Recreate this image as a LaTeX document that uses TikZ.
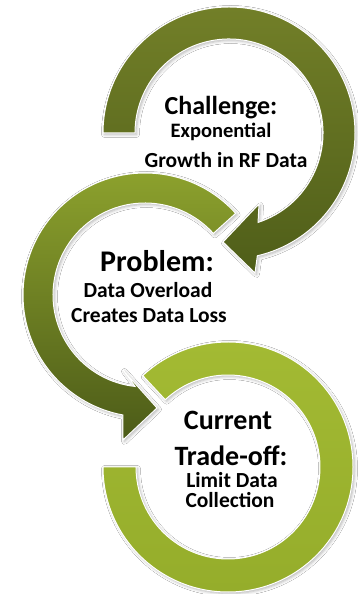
\documentclass[tikz,border=0pt]{standalone}
\usepackage{fontspec}
\setmainfont{Carlito}
\usetikzlibrary{calc,shadows.blur}
\definecolor{oneTop}{HTML}{727F28}
\definecolor{oneBot}{HTML}{4F5E19}
\definecolor{twoTop}{HTML}{8FA42E}
\definecolor{twoBot}{HTML}{4C5B18}
\definecolor{thrTop}{HTML}{A3BA33}
\definecolor{thrBot}{HTML}{95AD2B}
\begin{document}
\begin{tikzpicture}[x=1pt,y=1pt,
  ring/.style={draw=white, line width=1pt,
    blur shadow={shadow xshift=1.5pt, shadow yshift=-1.5pt, shadow blur radius=3pt, shadow opacity=30}},
  head/.style={font=\fontsize{27}{30}\selectfont\bfseries, inner sep=0pt, anchor=base},
  sub/.style={font=\fontsize{21.5}{24}\selectfont\bfseries, inner sep=0pt, anchor=base}]
\useasboundingbox[fill=white] (0,0) rectangle (358,594);
\coordinate (C1) at (229,461);
\coordinate (C2) at (145,299);
\coordinate (C3) at (228,127);
% third ring
\path[ring, top color=thrTop, bottom color=thrBot]
  ($(C3)+(180:125pt)$) arc[start angle=180, end angle=493, radius=125pt]
  -- ($(C3)+(133:92pt)$) arc[start angle=133, end angle=-180, radius=92pt] -- cycle;
% second ring with arrow
\coordinate (B2o) at (123,154);
\coordinate (T2) at (157,186);
\coordinate (B2i) at (123,224);
\path[ring, top color=twoTop, bottom color=twoBot]
  ($(C2)+(42:92pt)$) -- ($(C2)+(42:122pt)$)
  arc[start angle=42, end angle=259.6, radius=122pt]
  -- (B2o) -- (T2) -- (B2i)
  -- ($(C2)+(263.8:92pt)$) arc[start angle=263.8, end angle=42, radius=92pt] -- cycle;
% first ring with arrow
\coordinate (B1o) at (255,321);
\coordinate (T1) at (223,352);
\coordinate (B1i) at (259,390);
\path[ring, top color=oneTop, bottom color=oneBot]
  ($(C1)+(180:126pt)$) arc[start angle=180, end angle=-77, radius=126pt]
  -- (B1o) -- (T1) -- (B1i)
  -- ($(C1)+(-72:94pt)$) arc[start angle=-72, end angle=180, radius=94pt] -- cycle;
% texts
\node[head, font=\fontsize{26}{30}\selectfont\bfseries] (chal1) at (221,479) {Challenge:};
\node[sub, font=\fontsize{20.5}{24}\selectfont\bfseries]  (chal2) at (221,456) {Exponential};
\node[sub]  (chal3) at (226,426) {Growth in RF Data};
\node[head, font=\fontsize{30}{32}\selectfont\bfseries] (prob1) at (157,322) {Problem:};
\node[sub]  (prob2) at (148,296) {Data Overload};
\node[sub]  (prob3) at (149,271) {Creates Data Loss};
\node[head, font=\fontsize{28}{32}\selectfont\bfseries] (cur1) at (228,164) {Current};
\node[head, font=\fontsize{28}{32}\selectfont\bfseries, text depth=0pt] (cur2) at (231,128) {Trade-off:};
\node[sub, text height=14pt]  (cur3) at (232,106) {Limit Data};
\node[sub]  (cur4) at (230,86) {Collection};
\end{tikzpicture}
\end{document}
